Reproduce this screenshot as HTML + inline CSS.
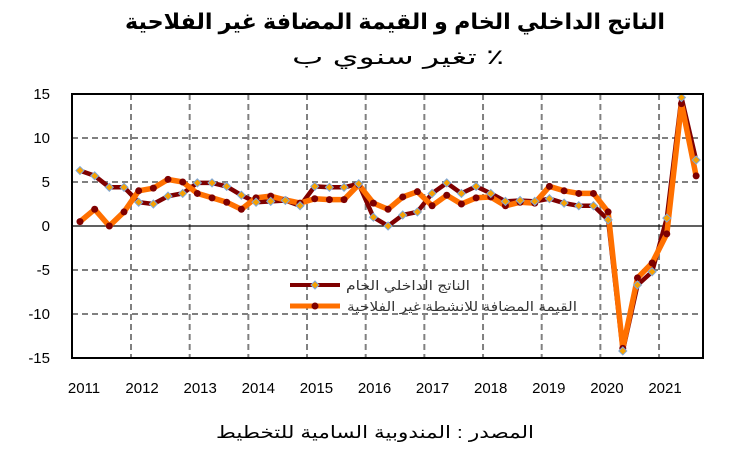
<!DOCTYPE html>
<html><head><meta charset="utf-8"><style>
html,body{margin:0;padding:0;background:#fff;}
svg{display:block;}
text{font-family:"Liberation Sans","DejaVu Sans",sans-serif;}
</style></head><body>
<svg id="c" width="745" height="450" xmlns="http://www.w3.org/2000/svg">
<rect width="745" height="450" fill="#fff"/>
<text x="395" y="29" text-anchor="middle" font-size="22" font-weight="bold" textLength="540" lengthAdjust="spacingAndGlyphs">الناتج الداخلي الخام و القيمة المضافة غير الفلاحية</text>
<text x="398" y="64" text-anchor="middle" font-size="21" textLength="212" lengthAdjust="spacingAndGlyphs">تغير سنوي ب ٪</text>
<g id="grid"></g>
<g id="series"></g>
<rect x="72" y="94" width="631" height="264" fill="none" stroke="#000" stroke-width="2"/>
<g font-size="15" text-anchor="end" id="ylab"></g>
<g font-size="15" text-anchor="middle" id="xlab"></g>
<line x1="290" y1="285" x2="340" y2="285" stroke="#7f0000" stroke-width="4"/>
<path d="M315 281 L319 285 L315 289 L311 285 Z" fill="#f7a100" stroke="#7fa8d8" stroke-width="1"/>
<text x="470" y="290" font-size="13" text-anchor="end" fill="#333" textLength="124" lengthAdjust="spacingAndGlyphs">الناتج الداخلي الخام</text>
<line x1="290" y1="306" x2="340" y2="306" stroke="#ff7000" stroke-width="5"/>
<circle cx="315" cy="306" r="3.5" fill="#7f0000"/>
<text x="577" y="311" font-size="13" text-anchor="end" fill="#333" textLength="230" lengthAdjust="spacingAndGlyphs">القيمة المضافة للانشطة غير الفلاحية</text>
<text x="375" y="438" text-anchor="middle" font-size="17" textLength="318" lengthAdjust="spacingAndGlyphs">المصدر : المندوبية السامية للتخطيط</text>
</svg>
<script>
var NS="http://www.w3.org/2000/svg";
function el(p,t,a){var e=document.createElementNS(NS,t);for(var k in a)e.setAttribute(k,a[k]);p.appendChild(e);return e;}
function Y(v){return 226-v*8.8;}
var g=document.getElementById('grid');
[10,5,-5,-10].forEach(function(v){el(g,'line',{x1:72,x2:703,y1:Y(v),y2:Y(v),stroke:'#808080','stroke-width':2,'stroke-dasharray':'6,4'});});
for(var k=0;k<10;k++){var x=131+58.67*k;el(g,'line',{x1:x,x2:x,y1:94,y2:358,stroke:'#808080','stroke-width':2,'stroke-dasharray':'6,4'});}
el(g,'line',{x1:72,x2:703,y1:226,y2:226,stroke:'#000','stroke-width':1.2});
var yl=document.getElementById('ylab');
[15,10,5,0,-5,-10,-15].forEach(function(v){var t=el(yl,'text',{x:50,y:Y(v)+5});t.textContent=v;});
var xl=document.getElementById('xlab');
for(var i=0;i<11;i++){var t=el(xl,'text',{x:84+58.1*i,y:393});t.textContent=2011+i;}
var gdp=[6.3,5.7,4.4,4.4,2.7,2.5,3.4,3.7,4.9,4.9,4.5,3.5,2.7,2.8,2.9,2.3,4.5,4.4,4.4,4.8,1.0,0.0,1.25,1.6,3.7,4.9,3.7,4.5,3.7,2.8,2.9,2.8,3.1,2.6,2.3,2.3,0.7,-14.2,-6.7,-5.2,0.9,14.6,7.5];
var na=[0.5,1.9,0.0,1.6,4.0,4.3,5.3,5.0,3.7,3.2,2.7,1.9,3.2,3.4,2.95,2.6,3.1,3.0,3.0,4.7,2.6,1.9,3.3,3.9,2.3,3.5,2.5,3.2,3.3,2.3,2.7,2.6,4.5,4.0,3.7,3.7,1.6,-13.9,-5.9,-4.2,-0.9,13.9,5.7];
function pts(a){return a.map(function(v,i){return (80+14.67*i).toFixed(1)+','+Y(v).toFixed(1);}).join(' ');}
var s=document.getElementById('series');
el(s,'polyline',{points:pts(gdp),fill:'none',stroke:'#7f0000','stroke-width':4.5,'stroke-linejoin':'round'});
el(s,'polyline',{points:pts(na),fill:'none',stroke:'#ff7000','stroke-width':5.5,'stroke-linejoin':'round'});
na.forEach(function(v,i){el(s,'circle',{cx:80+14.67*i,cy:Y(v),r:3.5,fill:'#7f0000'});});
gdp.forEach(function(v,i){var x=80+14.67*i,y=Y(v);el(s,'path',{d:'M'+x+' '+(y-4)+' L'+(x+4)+' '+y+' L'+x+' '+(y+4)+' L'+(x-4)+' '+y+' Z',fill:'#f7a100',stroke:'#7fa8d8','stroke-width':1});});
</script>
</body></html>
